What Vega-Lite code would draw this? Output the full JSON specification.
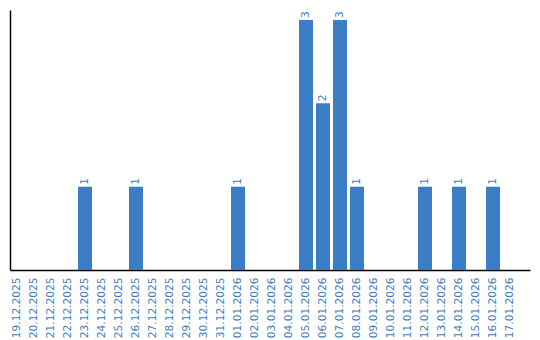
{
  "$schema": "https://vega.github.io/schema/vega-lite/v6.json",
  "width": 520,
  "height": 260,
  "autosize": {"type": "none"},
  "padding": {"left": 10, "top": 10, "right": 10, "bottom": 70},
  "config": {"view": {"stroke": null}, "font": "DejaVu Sans"},
  "data": {"values": [
    {"d": "19.12.2025", "v": 0}, {"d": "20.12.2025", "v": 0}, {"d": "21.12.2025", "v": 0},
    {"d": "22.12.2025", "v": 0}, {"d": "23.12.2025", "v": 1}, {"d": "24.12.2025", "v": 0},
    {"d": "25.12.2025", "v": 0}, {"d": "26.12.2025", "v": 1}, {"d": "27.12.2025", "v": 0},
    {"d": "28.12.2025", "v": 0}, {"d": "29.12.2025", "v": 0}, {"d": "30.12.2025", "v": 0},
    {"d": "31.12.2025", "v": 0}, {"d": "01.01.2026", "v": 1}, {"d": "02.01.2026", "v": 0},
    {"d": "03.01.2026", "v": 0}, {"d": "04.01.2026", "v": 0}, {"d": "05.01.2026", "v": 3},
    {"d": "06.01.2026", "v": 2}, {"d": "07.01.2026", "v": 3}, {"d": "08.01.2026", "v": 1},
    {"d": "09.01.2026", "v": 0}, {"d": "10.01.2026", "v": 0}, {"d": "11.01.2026", "v": 0},
    {"d": "12.01.2026", "v": 1}, {"d": "13.01.2026", "v": 0}, {"d": "14.01.2026", "v": 1},
    {"d": "15.01.2026", "v": 0}, {"d": "16.01.2026", "v": 1}, {"d": "17.01.2026", "v": 0}
  ]},
  "encoding": {
    "x": {"field": "d", "type": "nominal", "sort": null,
      "scale": {"paddingInner": 0.1765, "paddingOuter": 0.382, "align": 0},
      "axis": {"title": null, "labelAngle": -90, "labelAlign": "right", "labelBaseline": "middle",
        "ticks": false, "labelPadding": 7, "labelFont": "DejaVu Sans", "labelFontSize": 10.6, "labelColor": "#3a7dc2",
        "domainColor": "#000000", "domainWidth": 1.5, "grid": false}},
    "y": {"field": "v", "type": "quantitative",
      "scale": {"domain": [0, 3.12], "nice": false},
      "axis": {"title": null, "labels": false, "ticks": false, "grid": false,
        "domainColor": "#000000", "domainWidth": 1.5}}
  },
  "layer": [
    {"mark": {"type": "bar", "color": "#3b7ec5"}},
    {"transform": [{"filter": "datum.v > 0"}],
     "mark": {"type": "text", "angle": -90, "align": "left", "baseline": "middle", "dx": 2,
       "font": "DejaVu Sans", "fontSize": 10.6, "color": "#3a7dc2"},
     "encoding": {"text": {"field": "v", "type": "quantitative"}}}
  ]
}
